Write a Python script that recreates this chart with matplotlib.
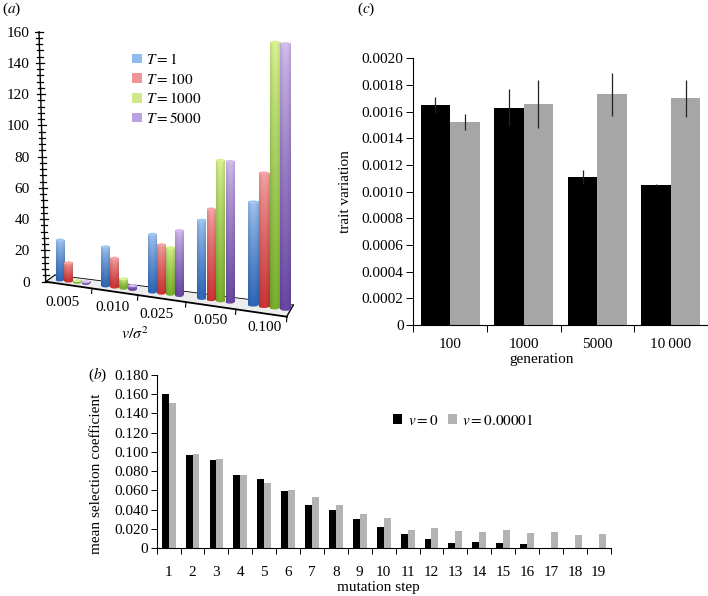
import matplotlib
matplotlib.use("Agg")
import matplotlib.pyplot as plt
import matplotlib.patches as patches
import numpy as np

plt.rcParams['font.family'] = ['Liberation Serif', 'DejaVu Serif']
plt.rcParams['mathtext.fontset'] = 'stix'
plt.rcParams['axes.linewidth'] = 0.8

W, H = 708, 596

# panel a
a_cats = ['0.005', '0.010', '0.025', '0.050', '0.100']
a_t1 = [25.6, 25, 37, 50, 66]
a_t100 = [11.7, 18.5, 31, 58, 85.5]
a_t1000 = [1, 6, 30, 90, 170]
a_t5000 = [1, 2.5, 41.6, 90, 170]
a_labels = [r'$T{=}1$', r'$T{=}100$', r'$T{=}1000$', r'$T{=}5000$']

# panel b
b_steps = list(range(1, 20))
b_v0 = [.160, .097, .092, .076, .072, .059, .045, .040, .030, .022, .015, .0095,
        .0055, .0065, .0055, .004, 0, 0, 0]
b_v1 = [.151, .0975, .093, .0755, .0675, .0605, .053, .0445, .0355, .0315, .0185,
        .021, .0175, .0165, .0185, .0155, .0165, .0135, .0145]

# panel c
c_gens = ['100', '1000', '5000', '10\u2009000']
c_black = [.00165, .00163, .00111, .00105]
c_grey = [.00152, .00166, .00173, .00170]
c_black_err = [.00006, .00014, .00005, .00001]
c_grey_err = [.00006, .00018, .00016, .00014]

# fake 3d layout of panel a, in image pixels
group_left = [55.7, 101.3, 148.3, 197.3, 248]
group_step = [8.7, 9, 8.9, 9.4, 10.8]
label_pos = [(63, 303), (113, 308), (157, 315), (210, 321), (264, 328)]
floor_ticks = [92, 138, 186, 236, 287]
# top colour, bottom colour of each series
a_colors = [('#a4c6f2', '#2f68b8'), ('#f7a4a4', '#cc3535'),
            ('#d8f290', '#79b02e'), ('#d2bdee', '#6a48a4')]
a_legend = ['#8fbcf0', '#f0939a', '#cfe98a', '#b9a2e2']

PX_PER_UNIT = 1.5625
ZERO_Y = 281.7


def axes_px(fig, left, top, right, bottom):
    return fig.add_axes([left / W, 1 - bottom / H, (right - left) / W, (bottom - top) / H])


def py2v(py):
    return (ZERO_Y - py) / PX_PER_UNIT


def base_v(x):
    return py2v(280 + 0.13 * (x - 60))


def label_at(ax, axis, px, py, box):
    """Put an axis label centre on an image pixel"""
    left, top, right, bottom = box
    label = axis.label
    label.set_va('center')
    label.set_ha('center')
    axis.set_label_coords((px - left) / (right - left), (bottom - py) / (bottom - top))


def cylinder(ax, x, w, value, top_c, bot_c):
    """Bar with a shaded image body and elliptical ends"""
    b = base_v(x + w / 2)
    t = b + value
    n = 24
    shade = 0.8 + 0.2 * np.sin(np.linspace(0.25, np.pi - 0.25, n)) ** 0.7
    frac = np.linspace(0, 1, 40)[:, None, None] ** 0.8
    c1 = np.array(matplotlib.colors.to_rgb(top_c))
    c2 = np.array(matplotlib.colors.to_rgb(bot_c))
    img = np.clip((c1 * (1 - frac) + c2 * frac) * shade[None, :, None], 0, 1)
    e_h = 3 / PX_PER_UNIT
    ax.add_patch(patches.Ellipse((x + w / 2, b), w, e_h, color=img[-1, n // 2], lw=0, zorder=3))
    ax.imshow(img, extent=(x, x + w, b, t), aspect='auto', zorder=3, interpolation='bilinear')
    ax.add_patch(patches.Ellipse((x + w / 2, t), w, e_h, color=top_c, lw=0, zorder=4))


def panel_a(fig):
    ax = axes_px(fig, 0, 0, 330, 345)
    ax.patch.set_visible(False)
    for s in ax.spines.values():
        s.set_visible(False)
    ax.tick_params(axis='x', length=0, labelbottom=False)

    # floor
    corners = [(45.7, 281.7), (286.7, 316.7), (293.3, 305), (55, 275)]
    ax.add_patch(patches.Polygon([(x, py2v(y)) for x, y in corners], closed=True,
                                 facecolor='#ededed', edgecolor='none', zorder=1))
    edge = corners + [corners[0]]
    for (x0, y0), (x1, y1), lw in zip(edge[:-1], edge[1:], [1.3, 1.0, 0.6, 0.8]):
        ax.plot([x0, x1], [py2v(y0), py2v(y1)], color='black', lw=lw, zorder=2)
    for x in floor_ticks:
        y = 281.7 + 0.145 * (x - 45.7)
        ax.plot([x, x - 0.5], [py2v(y), py2v(y + 5)], color='black', lw=0.8, zorder=2)

    # axis is slightly slanted
    ax.plot([39, 45.7], [160, 0], color='black', lw=1.0, zorder=2)
    for v in range(0, 161, 4):
        x = 45.7 - 6.7 * v / 160
        half = 4 if v % 20 == 0 else 3
        ax.plot([x - half, x + half], [v, v], color='black', lw=0.9, zorder=2)

    series = [a_t1, a_t100, a_t1000, a_t5000]
    for g in range(len(a_cats)):
        for i, vals in enumerate(series):
            step = group_step[g]
            cylinder(ax, group_left[g] + i * step, step * 0.95, vals[g], *a_colors[i])

    for name, (x, y) in zip(a_cats, label_pos):
        ax.text(x, py2v(y), name, ha='center', va='center', fontsize=11, zorder=5)
    ax.text(135, py2v(335), r'$v/\sigma^2$', ha='center', va='center', fontsize=11.5)

    ax.set_xlim(0, 330)
    ax.set_ylim(py2v(345), py2v(0))
    ax.set_yticks(range(0, 161, 20))
    ax.tick_params(axis='y', length=0, labelsize=11, pad=0)
    for lab in ax.get_yticklabels():
        lab.set_transform(lab.get_transform() + matplotlib.transforms.ScaledTranslation(30 / 100, 0, fig.dpi_scale_trans))

    handles = [patches.Patch(facecolor=c, edgecolor='none') for c in a_legend]
    ax.legend(handles, a_labels, frameon=False, fontsize=11, handlelength=0.65, handleheight=0.6,
              handletextpad=0.25, labelspacing=0.3, loc='upper left',
              bbox_to_anchor=(132 / 330, 1 - 52 / 345), borderpad=0, borderaxespad=0)
    ax.text(2, py2v(9), '($a$)', ha='left', va='center', fontsize=11)


def panel_b(fig):
    box = (156.7, 374.7, 610.7, 548.3)
    ax = axes_px(fig, *box)
    x = np.arange(len(b_steps))
    ax.bar(x - 0.145, b_v0, width=0.29, color='black', label=r'$v{=}0$')
    ax.bar(x + 0.145, b_v1, width=0.29, color='#b3b3b3', label=r'$v{=}0.00001$')
    ax.set_xlim(-0.5, len(b_steps) - 0.5)
    ax.set_ylim(0, 0.18)
    ax.set_yticks(np.arange(0, 0.181, 0.02))
    ax.set_yticklabels(['0'] + [f'{v:.3f}' for v in np.arange(0.02, 0.181, 0.02)])
    ax.set_xticks(x)
    ax.set_xticklabels(b_steps)
    ax.set_xticks(np.arange(-0.5, len(b_steps)), minor=True)
    ax.tick_params(axis='x', which='major', length=0, pad=13, labelsize=11)
    ax.tick_params(axis='x', which='minor', length=4, width=0.7)
    ax.tick_params(axis='y', length=4, width=0.7, pad=2, labelsize=11)
    ax.spines[['top', 'right']].set_visible(False)
    ax.set_xlabel('mutation step', fontsize=11)
    ax.set_ylabel('mean selection coefficient', fontsize=11)
    label_at(ax, ax.xaxis, 378, 588, box)
    label_at(ax, ax.yaxis, 97, 474, box)
    ax.legend(frameon=False, fontsize=11, ncol=2, handlelength=0.6, handleheight=0.6, handletextpad=0.35,
              columnspacing=0.6, loc='center left', bbox_to_anchor=((393 - 156.7) / 454, (548.3 - 420) / 173.6),
              borderpad=0, borderaxespad=0)
    fig.text(88 / W, 1 - 375 / H, '($b$)', ha='left', va='center', fontsize=11)


def panel_c(fig):
    box = (413.3, 58.3, 707.7, 325)
    ax = axes_px(fig, *box)
    x = np.arange(len(c_gens))
    ax.bar(x - 0.2, c_black, width=0.4, color='black',
           yerr=c_black_err, error_kw=dict(ecolor='#222222', elinewidth=0.9))
    ax.bar(x + 0.2, c_grey, width=0.4, color='#a6a6a6',
           yerr=c_grey_err, error_kw=dict(ecolor='#222222', elinewidth=0.9))
    ax.set_xlim(-0.5, len(c_gens) - 0.5)
    ax.set_ylim(0, 0.002)
    ax.set_yticks(np.arange(0, 0.00201, 0.0002))
    ax.set_yticklabels(['0'] + [f'{v:.4f}' for v in np.arange(0.0002, 0.00201, 0.0002)])
    ax.set_xticks(x)
    ax.set_xticklabels(c_gens)
    ax.set_xticks(np.arange(-0.5, len(c_gens)), minor=True)
    ax.tick_params(axis='x', which='major', length=0, pad=9, labelsize=11)
    ax.tick_params(axis='x', which='minor', length=5, width=0.7)
    ax.tick_params(axis='y', length=5, width=0.7, pad=2, labelsize=11)
    ax.spines[['top', 'right']].set_visible(False)
    ax.set_xlabel('generation', fontsize=11)
    ax.set_ylabel('trait variation', fontsize=11)
    label_at(ax, ax.xaxis, 542, 360, box)
    label_at(ax, ax.yaxis, 345, 192, box)
    fig.text(357 / W, 1 - 9 / H, '($c$)', ha='left', va='center', fontsize=11)


fig = plt.figure(figsize=(W / 100, H / 100), dpi=100)
panel_a(fig)
panel_b(fig)
panel_c(fig)
fig.savefig('out.png', dpi=100)
